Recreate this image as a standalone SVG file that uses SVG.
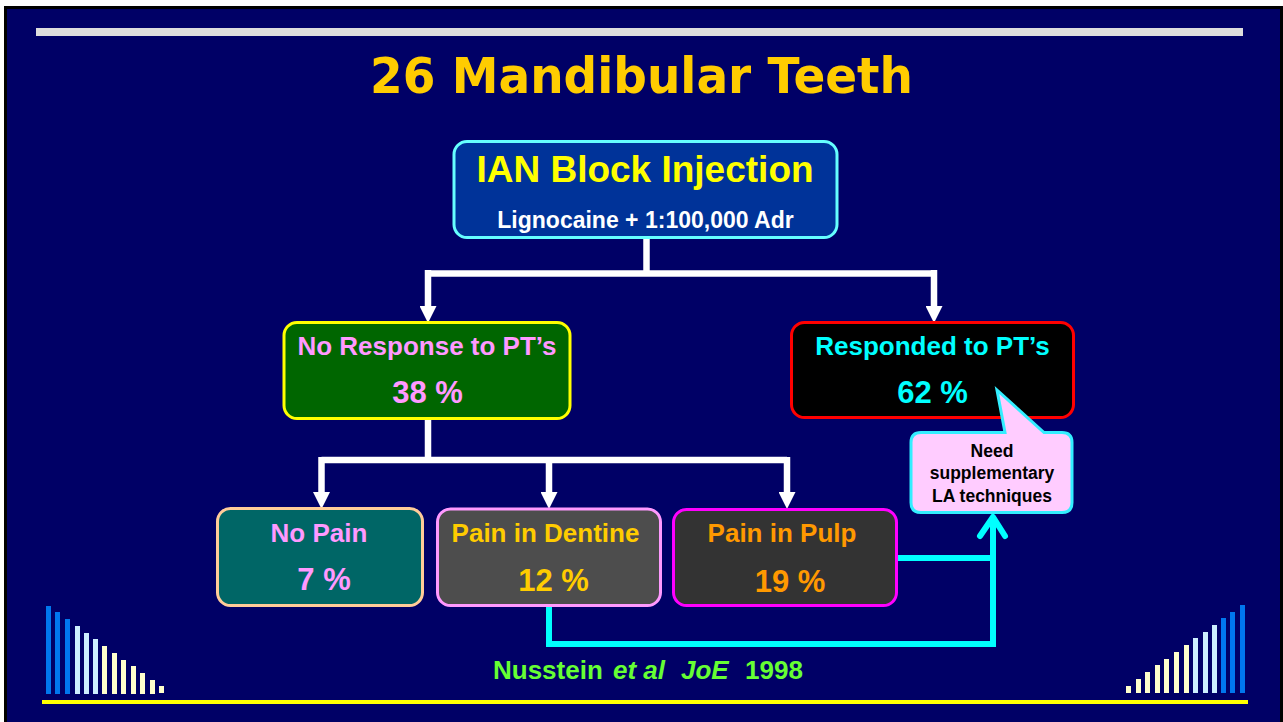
<svg xmlns="http://www.w3.org/2000/svg" width="1283" height="722" viewBox="0 0 1283 722">
<style>
.t{font-family:"Liberation Sans",Arial,sans-serif;font-weight:bold;text-anchor:middle}
.w{fill:none;stroke:#FFFFFF;stroke-width:6.5}
.c{fill:none;stroke:#00FFFF;stroke-width:6;stroke-linejoin:miter}
.bb{fill:#0077EE}.lb{fill:#CCEEFF}.ly{fill:#FFFFCC}
</style>
<defs>
<marker id="ah" markerUnits="userSpaceOnUse" markerWidth="17" markerHeight="17" refX="8" refY="8.5" orient="auto" viewBox="0 0 17 17">
<path d="M0,0 L17,8.5 L0,17 Z" fill="#FFFFFF"/>
</marker>
</defs>
<rect x="0" y="0" width="1283" height="722" fill="#FFFFFF"/>
<rect x="4" y="6" width="1279" height="716" fill="#000000"/>
<rect x="7" y="9" width="1273" height="713" fill="#000066"/>
<rect x="36" y="28" width="1207" height="8" fill="#DDDDDD"/>
<rect x="42" y="700" width="1206" height="4" fill="#FFFF00"/>
<g id="bars-left">
<rect class="bb" x="46" y="606" width="5" height="88"/>
<rect class="bb" x="55" y="612" width="5" height="82"/>
<rect class="bb" x="65" y="619" width="5" height="75"/>
<rect class="lb" x="75" y="626" width="5" height="68"/>
<rect class="lb" x="84" y="633" width="5" height="61"/>
<rect class="lb" x="93" y="639" width="5" height="55"/>
<rect class="ly" x="102" y="646" width="5" height="48"/>
<rect class="ly" x="112" y="653" width="5" height="41"/>
<rect class="ly" x="121" y="660" width="5" height="34"/>
<rect class="ly" x="131" y="666" width="5" height="28"/>
<rect class="ly" x="140" y="673" width="5" height="21"/>
<rect class="ly" x="150" y="680" width="5" height="14"/>
<rect class="ly" x="159" y="686" width="5" height="7"/>
</g>
<g id="bars-right">
<rect class="ly" x="1126" y="686" width="5" height="7"/>
<rect class="ly" x="1136" y="679" width="5" height="14"/>
<rect class="ly" x="1145" y="672" width="5" height="21"/>
<rect class="ly" x="1155" y="665" width="5" height="28"/>
<rect class="ly" x="1164" y="659" width="5" height="34"/>
<rect class="ly" x="1174" y="652" width="5" height="41"/>
<rect class="ly" x="1184" y="645" width="5" height="48"/>
<rect class="lb" x="1193" y="638" width="5" height="55"/>
<rect class="lb" x="1203" y="632" width="5" height="61"/>
<rect class="lb" x="1212" y="625" width="5" height="68"/>
<rect class="bb" x="1221" y="618" width="5" height="75"/>
<rect class="bb" x="1230" y="612" width="5" height="81"/>
<rect class="bb" x="1240" y="605" width="5" height="88"/>
</g>
<text x="370" y="93" font-family="'Comic Sans MS','DejaVu Sans',sans-serif" font-weight="bold" font-size="50" fill="#FFCC00" textLength="543" lengthAdjust="spacingAndGlyphs">26 Mandibular Teeth</text>
<g id="connectors">
<path class="w" d="M646.5,238 V273.5"/>
<path class="w" d="M428,273.5 H935"/>
<path class="w" d="M428,270 V314" marker-end="url(#ah)"/>
<path class="w" d="M934,270 V314" marker-end="url(#ah)"/>
<path class="w" d="M428,419 V460"/>
<path class="w" d="M321.5,460 H787"/>
<path class="w" d="M321.5,457 V500" marker-end="url(#ah)"/>
<path class="w" d="M549,457 V500" marker-end="url(#ah)"/>
<path class="w" d="M787,457 V500" marker-end="url(#ah)"/>
<path class="c" d="M549,606 V644 H993 V518"/>
<path class="c" d="M897,558 H993"/>
<path d="M980,536 L993,517 L1005,536" fill="none" stroke="#00FFFF" stroke-width="6" stroke-linecap="round" stroke-linejoin="round"/>
</g>
<g id="ian">
<rect x="454" y="141.5" width="383" height="96" rx="13" fill="#003399" stroke="#66FFFF" stroke-width="3"/>
<text class="t" x="645" y="182" font-size="37" fill="#FFFF00">IAN Block Injection</text>
<text class="t" x="645.5" y="228" font-size="23" fill="#FFFFFF">Lignocaine + 1:100,000 Adr</text>
</g>
<g id="noresponse">
<rect x="284" y="322.5" width="286" height="96" rx="13" fill="#006600" stroke="#FFFF00" stroke-width="3"/>
<text class="t" x="427" y="355" font-size="26" fill="#FF99FF">No Response to PT’s</text>
<text class="t" x="427.5" y="403" font-size="31" fill="#FF99FF">38 %</text>
</g>
<g id="responded">
<rect x="791.5" y="322.5" width="282" height="95" rx="13" fill="#000000" stroke="#FF0000" stroke-width="3"/>
<text class="t" x="932.5" y="355" font-size="26" fill="#00FFFF">Responded to PT’s</text>
<text class="t" x="932.5" y="403" font-size="31" fill="#00FFFF">62 %</text>
</g>
<g id="callout">
<path d="M921,432.5 H1005 L997,390 L1044,432.5 H1062 Q1072,432.5 1072,442.5 V502.5 Q1072,512.5 1062,512.5 H921 Q911,512.5 911,502.5 V442.5 Q911,432.5 921,432.5 Z" fill="#FFCCFF" stroke="#33EEFF" stroke-width="3"/>
<text class="t" x="992" y="457" font-size="17.5" fill="#000000">Need</text>
<text class="t" x="992" y="479" font-size="17.5" fill="#000000">supplementary</text>
<text class="t" x="992" y="502" font-size="17.5" fill="#000000">LA techniques</text>
</g>
<g id="nopain">
<rect x="217.5" y="508.5" width="205" height="97" rx="13" fill="#006666" stroke="#FFCC99" stroke-width="3"/>
<text class="t" x="319" y="542" font-size="26" fill="#FF99FF">No Pain</text>
<text class="t" x="324" y="590" font-size="31" fill="#FF99FF">7 %</text>
</g>
<g id="dentine">
<rect x="437.5" y="509" width="223" height="96.5" rx="13" fill="#4D4D4D" stroke="#FF99FF" stroke-width="3"/>
<text class="t" x="545.5" y="542" font-size="26" fill="#FFCC00">Pain in Dentine</text>
<text class="t" x="553.5" y="591" font-size="31" fill="#FFCC00">12 %</text>
</g>
<g id="pulp">
<rect x="673.5" y="509.5" width="223" height="96" rx="13" fill="#333333" stroke="#FF00FF" stroke-width="3"/>
<text class="t" x="782" y="542" font-size="26" fill="#FF9900">Pain in Pulp</text>
<text class="t" x="790" y="592" font-size="31" fill="#FF9900">19 %</text>
</g>
<text font-family="'Liberation Sans',Arial,sans-serif" font-weight="bold" font-size="26" fill="#66FF33" y="679"><tspan x="493">Nusstein</tspan><tspan x="613" font-style="italic">et al</tspan><tspan x="681" font-style="italic">JoE</tspan><tspan x="745">1998</tspan></text>
</svg>
